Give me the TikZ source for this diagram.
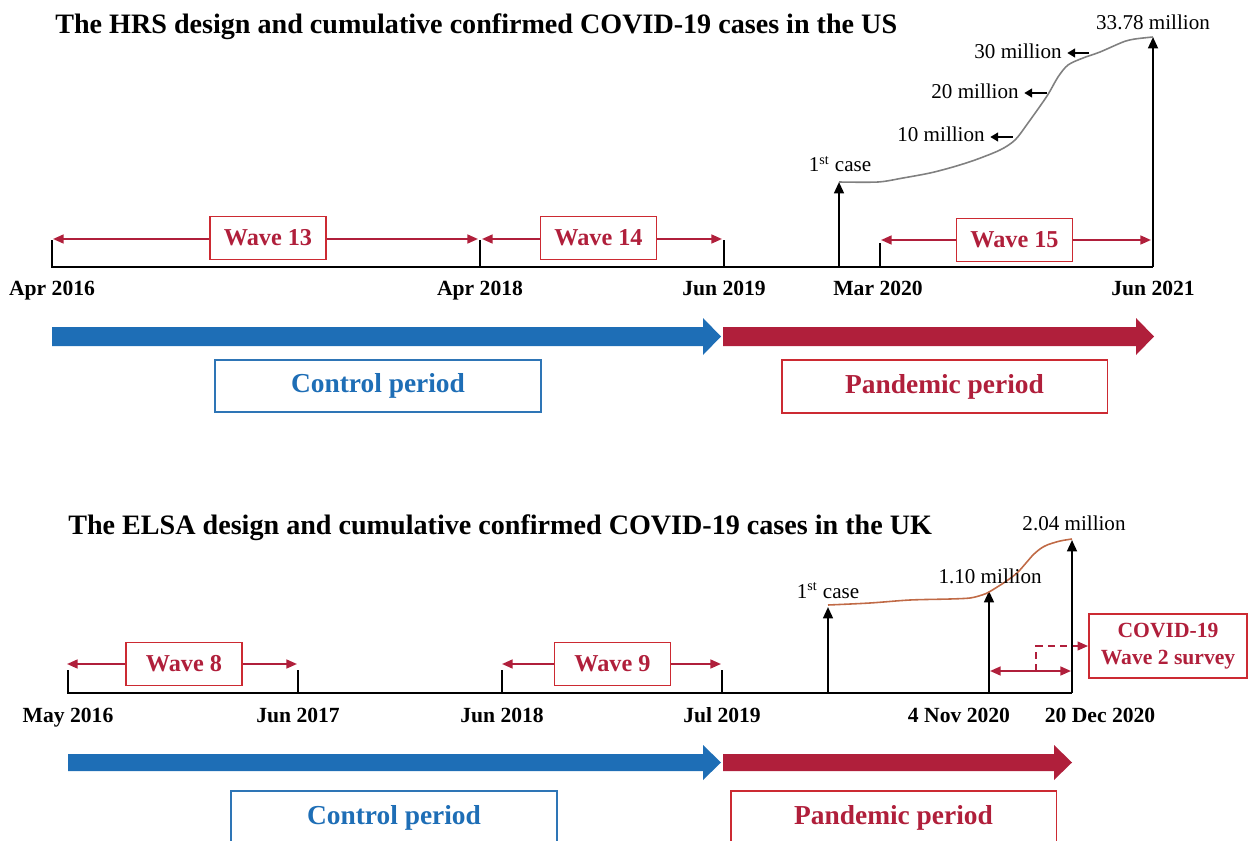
\documentclass[tikz,border=0pt]{standalone}
\usepackage{fontspec}
\setmainfont{Liberation Serif}
\usetikzlibrary{arrows.meta}
\definecolor{cred}{RGB}{176,31,59}
\definecolor{boxred}{RGB}{204,42,50}
\definecolor{cblue}{RGB}{30,110,182}
\definecolor{boxblue}{RGB}{46,117,182}
\definecolor{curvegray}{RGB}{128,128,128}
\definecolor{curveorange}{RGB}{192,106,70}
\begin{document}
\begin{tikzpicture}[x=0.02cm,y=-0.02cm,
  titletxt/.style={anchor=base west,inner sep=0,font=\fontsize{16}{19}\selectfont\bfseries},
  datelab/.style={anchor=base,inner sep=0,font=\fontsize{12.3}{14}\selectfont\bfseries},
  mlab/.style={anchor=base,inner sep=0,font=\fontsize{12}{14}\selectfont},
  wavebox/.style={draw=boxred,line width=1.1pt,fill=white,text=cred,inner sep=0,
     minimum width=2.32cm,minimum height=0.86cm,font=\fontsize{13.8}{16}\selectfont\bfseries},
  periodbox/.style={line width=1.1pt,fill=white,inner sep=0,
     minimum width=6.52cm,minimum height=1.05cm,font=\fontsize{15.6}{18}\selectfont\bfseries},
  axisline/.style={line width=1.1pt,black},
  blackarr/.style={line width=1.2pt,black,-{Triangle[length=6.5pt,width=5.6pt]}},
  smallarr/.style={line width=1.3pt,black,-{Triangle[length=4.5pt,width=5pt]}},
  redarr/.style={line width=1.1pt,cred,-{Triangle[length=6pt,width=5pt]}},
  reddbl/.style={line width=1.1pt,cred,{Triangle[length=6pt,width=5pt]}-{Triangle[length=6pt,width=5pt]}},
  reddash/.style={line width=1.1pt,cred,dash pattern=on 4pt off 3pt,-{Triangle[length=6pt,width=5pt]}},
]
\useasboundingbox (0,0) rectangle (1250,841);

% ================= HRS (top) =================
\node[titletxt] (t1) at (55,34) {The HRS design and cumulative confirmed COVID-19 cases in the US};

% axis and ticks
\coordinate (a0) at (52,240);
\coordinate (a0b) at (52,267);
\coordinate (aend) at (1153,267);
\coordinate (k1) at (480,240); \coordinate (k1b) at (480,267);
\coordinate (k2) at (724,240); \coordinate (k2b) at (724,267);
\coordinate (k3) at (880,243); \coordinate (k3b) at (880,267);
\coordinate (fc1b) at (839,267); \coordinate (fc1) at (839,182);
\coordinate (j21) at (1153,37);
\draw[axisline] (a0) -- (a0b) -- (aend);
\draw[axisline] (k1) -- (k1b);
\draw[axisline] (k2) -- (k2b);
\draw[axisline] (k3) -- (k3b);
\draw[blackarr] (fc1b) -- (fc1);
\draw[blackarr] (aend) -- (j21);

% date labels
\node[datelab] (d1) at (52,295) {Apr 2016};
\node[datelab] (d2) at (480,295) {Apr 2018};
\node[datelab] (d3) at (724,295) {Jun 2019};
\node[datelab] (d4) at (878,295) {Mar 2020};
\node[datelab] (d5) at (1153,295) {Jun 2021};

% waves
\node[wavebox] (w13) at (268,238) {Wave 13};
\node[wavebox] (w14) at (598.5,238) {Wave 14};
\node[wavebox] (w15) at (1014.5,240) {Wave 15};
\coordinate (w13l) at (53,239); \coordinate (w13r) at (478,239);
\coordinate (w14l) at (482,239); \coordinate (w14r) at (722,239);
\coordinate (w15l) at (881,240); \coordinate (w15r) at (1151,240);
\draw[redarr] (w13.west |- w13l) -- (w13l);
\draw[redarr] (w13.east |- w13r) -- (w13r);
\draw[redarr] (w14.west |- w14l) -- (w14l);
\draw[redarr] (w14.east |- w14r) -- (w14r);
\draw[redarr] (w15.west |- w15l) -- (w15l);
\draw[redarr] (w15.east |- w15r) -- (w15r);

% curve
\draw[curvegray,line width=0.9pt] plot[smooth,tension=0.5] coordinates {(839,182) (878,182) (903,178) (930,173) (953,167) (975,160) (1000,150) (1015,140) (1028,123) (1047,96) (1058,77) (1068,65) (1083,58) (1100,52) (1123,42) (1135,39) (1153,37)};

\node[mlab] (fcase1) at (840,172) {1\textsuperscript{st} case};
\node[mlab] (m3378) at (1153,30) {33.78 million};
\node[mlab,anchor=base east] (m30) at (1062,59) {30 million};
\node[mlab,anchor=base east] (m20) at (1019,99) {20 million};
\node[mlab,anchor=base east] (m10) at (985,142) {10 million};
\coordinate (c30) at (1089,53);
\coordinate (c20) at (1047,93);
\coordinate (c10) at (1013,137);
\draw[smallarr,shorten >=3pt] (c30) -- (m30.east |- c30);
\draw[smallarr,shorten >=3pt] (c20) -- (m20.east |- c20);
\draw[smallarr,shorten >=3pt] (c10) -- (m10.east |- c10);

% period arrows
\fill[cblue] (52,327) -- (703,327) -- (703,318) -- (721,336.5) -- (703,355) -- (703,346) -- (52,346) -- cycle;
\fill[cred] (723,327) -- (1136,327) -- (1136,318) -- (1154,336.5) -- (1136,355) -- (1136,346) -- (723,346) -- cycle;
\node[periodbox,draw=boxblue,text=cblue] (cp1) at (378,386) {Control period};
\node[periodbox,draw=boxred,text=cred] (pp1) at (944.5,386.5) {Pandemic period};

% ================= ELSA (bottom) =================
\node[titletxt] (t2) at (68,534) {The ELSA design and cumulative confirmed COVID-19 cases in the UK};

\coordinate (b0) at (68,670);
\coordinate (b0b) at (68,693);
\coordinate (bend) at (1072,693);
\coordinate (q1) at (298,670); \coordinate (q1b) at (298,693);
\coordinate (q2) at (502,670); \coordinate (q2b) at (502,693);
\coordinate (q3) at (722,670); \coordinate (q3b) at (722,693);
\coordinate (fc2b) at (828,693); \coordinate (fc2) at (828,607);
\coordinate (n4b) at (989,693); \coordinate (n4) at (989,591);
\coordinate (d20) at (1072,540);
\draw[axisline] (b0) -- (b0b) -- (bend);
\draw[axisline] (q1) -- (q1b);
\draw[axisline] (q2) -- (q2b);
\draw[axisline] (q3) -- (q3b);
\draw[blackarr] (fc2b) -- (fc2);
\draw[blackarr] (n4b) -- (n4);
\draw[blackarr] (bend) -- (d20);

\node[datelab] (e1) at (68,722) {May 2016};
\node[datelab] (e2) at (298,722) {Jun 2017};
\node[datelab] (e3) at (502,722) {Jun 2018};
\node[datelab] (e4) at (722,722) {Jul 2019};
\node[datelab] (e5) at (959,722) {4 Nov 2020};
\node[datelab] (e6) at (1100,722) {20 Dec 2020};

\node[wavebox] (w8) at (184,664) {Wave 8};
\node[wavebox] (w9) at (612.5,664) {Wave 9};
\coordinate (w8l) at (67,664); \coordinate (w8r) at (297,664);
\coordinate (w9l) at (502,664); \coordinate (w9r) at (721,664);
\draw[redarr] (w8.west |- w8l) -- (w8l);
\draw[redarr] (w8.east |- w8r) -- (w8r);
\draw[redarr] (w9.west |- w9l) -- (w9l);
\draw[redarr] (w9.east |- w9r) -- (w9r);

\coordinate (s1) at (990,671); \coordinate (s2) at (1071,671);
\coordinate (sd) at (1036,671);
\draw[reddbl] (s1) -- (s2);
\node[draw=boxred,line width=1.1pt,text=cred,inner sep=0,minimum width=3.16cm,minimum height=1.28cm,
  align=center,font=\fontsize{12.3}{15.3}\selectfont\bfseries] (cov) at (1168,646) {COVID-19\\Wave 2 survey};
\draw[reddash] (sd) -- (sd |- cov.west) -- (cov.west);

\draw[curveorange,line width=0.9pt] plot[smooth,tension=0.5] coordinates {(828,605) (870,603) (910,600) (950,599) (970,598) (982,595) (989,592) (1005,582) (1017,573) (1026,563) (1033,555) (1040,549) (1047,545) (1060,541) (1072,539)};

\node[mlab] (fcase2) at (828,598) {1\textsuperscript{st} case};
\node[mlab,anchor=base east] (m110) at (1042,583) {1.10 million};
\node[mlab] (m204) at (1074,530) {2.04 million};

\fill[cblue] (68,754) -- (703,754) -- (703,745) -- (721,762.5) -- (703,780) -- (703,771) -- (68,771) -- cycle;
\fill[cred] (723,754) -- (1054,754) -- (1054,745) -- (1072,762.5) -- (1054,780) -- (1054,771) -- (723,771) -- cycle;
\node[periodbox,draw=boxblue,text=cblue] (cp2) at (394,817.5) {Control period};
\node[periodbox,draw=boxred,text=cred] (pp2) at (893.5,817.5) {Pandemic period};
\end{tikzpicture}
\end{document}
